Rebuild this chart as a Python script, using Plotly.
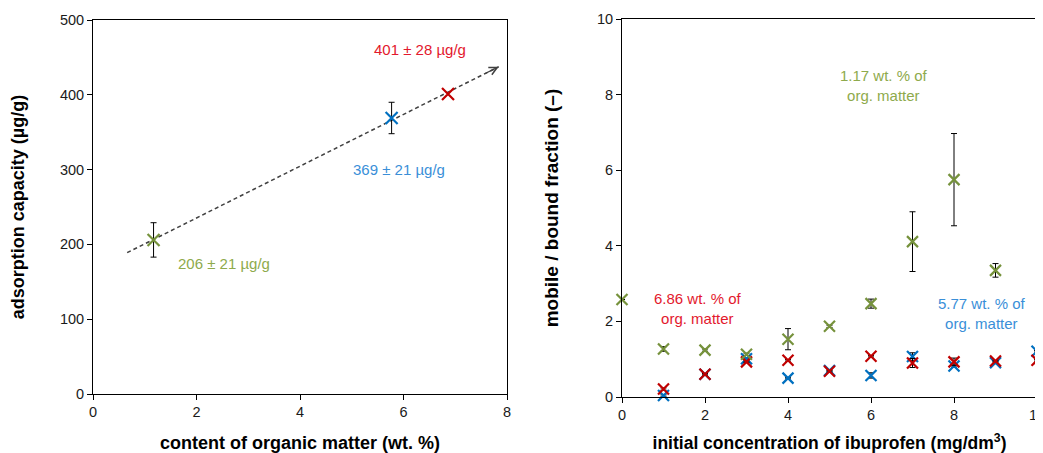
import numpy as np
import plotly.graph_objects as go

# ---- left chart data ----
om_content = [1.17, 5.77, 6.86]
capacity = [206, 369, 401]
capacity_err = [23, 21, 0]
om_colors = ["#76923C", "#0070C0", "#C00000"]
cap_labels = ["206 ± 21 µg/g", "369 ± 21 µg/g", "401 ± 28 µg/g"]
cap_label_x = [2.53, 5.92, 6.32]
cap_label_y = [175, 300, 461]
cap_label_colors = ["#8EAA4C", "#3A8FD8", "#E3182D"]
trend_x = [0.66, 7.84]

# ---- right chart data ----
conc_green = [0, 1, 2, 3, 4, 5, 6, 7, 8, 9]
frac_green = [2.58, 1.27, 1.24, 1.13, 1.53, 1.87, 2.47, 4.11, 5.75, 3.35]
err_green = [0, 0.06, 0.03, 0.03, 0.28, 0.03, 0.12, 0.79, 1.22, 0.18]

conc_red = [1, 2, 3, 4, 5, 6, 7, 8, 9, 10]
frac_red = [0.21, 0.60, 0.93, 0.97, 0.68, 1.08, 0.90, 0.93, 0.95, 0.97]
err_red = [0.03, 0.02, 0.02, 0.02, 0.02, 0.02, 0.12, 0.10, 0.02, 0.02]

conc_blue = [1, 2, 3, 4, 5, 6, 7, 8, 9, 10]
frac_blue = [0.04, 0.60, 1.01, 0.50, 0.70, 0.57, 1.07, 0.82, 0.91, 1.21]
err_blue = [0.02, 0.02, 0.02, 0.02, 0.02, 0.07, 0.10, 0.03, 0.02, 0.02]

series_names = ["1.17 wt. % of<br>org. matter", "6.86 wt. % of<br>org. matter", "5.77 wt. % of<br>org. matter"]
series_label_x = [6.31, 1.83, 8.67]
series_label_y = [8.25, 2.35, 2.2]

FONT = "Liberation Sans, Arial, sans-serif"

# page offset (body margin) compensation
OFF = 8
W, H = 1043 - OFF, 453 - OFF

def dx(px):
    return (px - OFF) / W

def dy(px):
    return 1 - (px - OFF) / H

fig = go.Figure()

# trend line (linear fit, extrapolated)
slope, intercept = np.polyfit(om_content, capacity, 1)
trend_y = [slope * x + intercept for x in trend_x]
fig.add_trace(go.Scatter(x=trend_x, y=trend_y, mode="lines",
                         line=dict(color="#404040", width=1.5, dash="4px,3px"),
                         xaxis="x", yaxis="y", showlegend=False, hoverinfo="skip"))
fig.add_annotation(x=trend_x[1], y=trend_y[1], ax=trend_x[1] - 0.3,
                   ay=trend_y[1] - 0.3 * slope, axref="x", ayref="y", xref="x", yref="y",
                   showarrow=True, arrowhead=5, arrowsize=1.3, arrowwidth=1.2,
                   arrowcolor="#404040", text="")

for i in range(3):
    fig.add_trace(go.Scatter(
        x=[om_content[i]], y=[capacity[i]], mode="markers",
        marker=dict(symbol="x-thin", size=12, line=dict(color=om_colors[i], width=2.2)),
        error_y=dict(type="data", array=[capacity_err[i]], visible=capacity_err[i] > 0,
                     color="#000000", thickness=1, width=3),
        xaxis="x", yaxis="y", showlegend=False, cliponaxis=False))
    fig.add_annotation(x=cap_label_x[i], y=cap_label_y[i], xref="x", yref="y",
                       text=cap_labels[i], showarrow=False,
                       font=dict(family=FONT, size=15, color=cap_label_colors[i]))

right_series = [
    (conc_green, frac_green, err_green, om_colors[0], cap_label_colors[0]),
    (conc_red, frac_red, err_red, om_colors[2], cap_label_colors[2]),
    (conc_blue, frac_blue, err_blue, om_colors[1], cap_label_colors[1]),
]
for idx in [2, 1, 0]:
    xs, ys, es, col, tcol = right_series[idx]
    fig.add_trace(go.Scatter(
        x=xs, y=ys, mode="markers",
        marker=dict(symbol="x-thin", size=11, line=dict(color=col, width=2.2)),
        error_y=dict(type="data", array=es, color="#000000", thickness=1, width=3),
        xaxis="x2", yaxis="y2", showlegend=False, cliponaxis=False))
    fig.add_annotation(x=series_label_x[idx], y=series_label_y[idx], xref="x2", yref="y2",
                       text=series_names[idx], showarrow=False,
                       font=dict(family=FONT, size=15, color=tcol))

axis_common = dict(showline=True, linecolor="#000000", linewidth=1, mirror=True,
                   ticks="outside", ticklen=5, tickcolor="#000000", showgrid=False,
                   zeroline=False, automargin=False, ticklabeloverflow="allow",
                   tickfont=dict(family=FONT, size=14.5, color="#1a1a1a"))

def tfont(size):
    return dict(family=FONT, size=size, color="#000000")

fig.update_layout(
    width=W, height=H,
    margin=dict(l=0, r=0, t=0, b=0, autoexpand=False),
    paper_bgcolor="white", plot_bgcolor="white",
    xaxis=dict(domain=[dx(93), dx(507)], range=[0, 8], dtick=2, anchor="y",
               title=dict(text="<b>content of organic matter (wt. %)</b>", font=tfont(18), standoff=17),
               **axis_common),
    yaxis=dict(domain=[dy(394), dy(20)], range=[0, 500], dtick=100, anchor="x",
               title=dict(text="<b>adsorption capacity (µg/g)</b>", font=tfont(18), standoff=30),
               **axis_common),
    xaxis2=dict(domain=[dx(622), dx(1037)], range=[0, 10], dtick=2, anchor="y2",
                title=dict(text="<b>initial concentration of ibuprofen (mg/dm<sup>3</sup>)</b>",
                           font=tfont(17.5), standoff=14),
                **axis_common),
    yaxis2=dict(domain=[dy(397), dy(19)], range=[0, 10], dtick=2, anchor="x2",
                title=dict(text="<b>mobile / bound fraction (–)</b>", font=tfont(19), standoff=33),
                **axis_common),
)

fig.write_html("out.html")
